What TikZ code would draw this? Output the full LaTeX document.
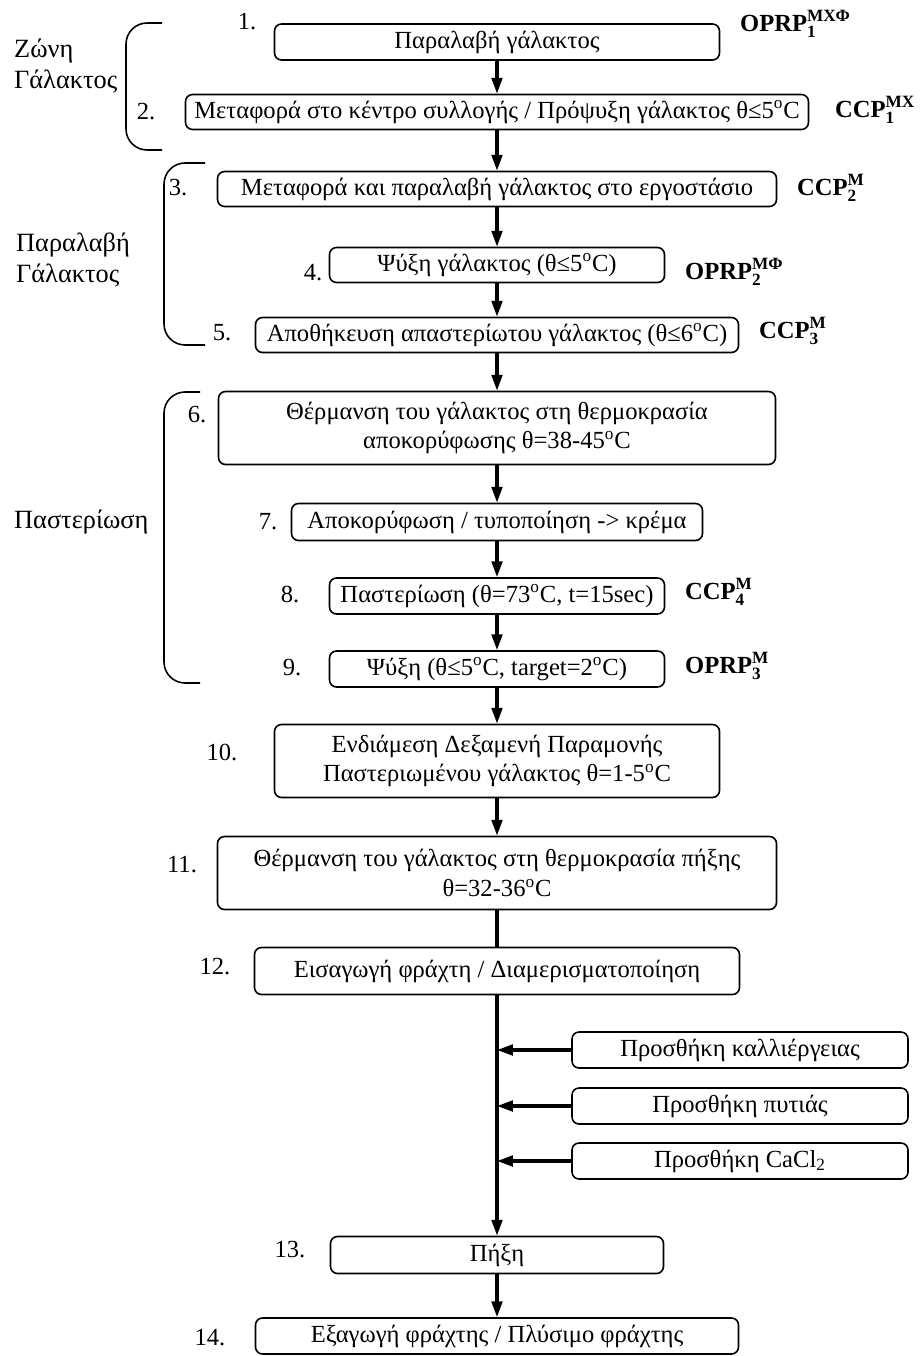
\documentclass[tikz,border=0pt]{standalone}
\usepackage{amsmath}
\usepackage{fontspec}
\setmainfont{Liberation Serif}
\usetikzlibrary{arrows.meta}
\tikzset{
  procbox/.style 2 args = {draw, line width=0.9pt, rounded corners=4pt, align=center,
    inner sep=1pt, minimum width=#1*0.02cm, minimum height=#2*0.02cm,
    font=\fontsize{14}{17}\selectfont},
  flow/.style = {line width=1.8pt, -{Triangle[length=9pt, width=6pt]}},
  stepnum/.style = {font=\fontsize{14}{17}\selectfont},
  hazard/.style = {anchor=west, inner sep=1pt, font=\fontsize{14}{17}\selectfont\bfseries},
  zone/.style = {anchor=west, align=left, font=\fontsize{15}{18}\selectfont},
  bracket/.style = {line width=0.9pt, rounded corners=12pt},
}
\newcommand{\hz}[3]{\textbf{#1}$_{\text{\bfseries #2}}^{\text{\bfseries #3}}$}
\newcommand{\dg}{\textsuperscript{o}}
\begin{document}
\begin{tikzpicture}[x=0.02cm, y=-0.02cm]
			\def\mx{497};
			\useasboundingbox (0,0) rectangle (921,1356);

			% main chain
			\node[procbox={445}{36}] (n1) at (\mx,42) {Παραλαβή γάλακτος};
			\node[procbox={623}{35}] (n2) at (\mx,112) {Μεταφορά στο κέντρο συλλογής / Πρόψυξη γάλακτος θ≤5\dg C};
			\node[procbox={559}{35}] (n3) at (\mx,189) {Μεταφορά και παραλαβή γάλακτος στο εργοστάσιο};
			\node[procbox={335}{35}] (n4) at (\mx,265) {Ψύξη γάλακτος (θ≤5\dg C)};
			\node[procbox={483}{35}] (n5) at (\mx,335) {Αποθήκευση απαστερίωτου γάλακτος (θ≤6\dg C)};
			\node[procbox={557}{73}] (n6) at (\mx,428) {Θέρμανση του γάλακτος στη θερμοκρασία\\αποκορύφωσης θ=38-45\dg C};
			\node[procbox={411}{37}] (n7) at (\mx,522) {Αποκορύφωση / τυποποίηση -> κρέμα};
			\node[procbox={335}{36}] (n8) at (\mx,596) {Παστερίωση (θ=73\dg C, t=15sec)};
			\node[procbox={335}{36}] (n9) at (\mx,669) {Ψύξη (θ≤5\dg C, target=2\dg C)};
			\node[procbox={445}{73}] (n10) at (\mx,761) {Ενδιάμεση Δεξαμενή Παραμονής\\Παστεριωμένου γάλακτος θ=1-5\dg C};
			\node[procbox={559}{73}] (n11) at (\mx,873) {Θέρμανση του γάλακτος στη θερμοκρασία πήξης\\θ=32-36\dg C};
			\node[procbox={485}{47}] (n12) at (\mx,971) {Εισαγωγή φράχτη / Διαμερισματοποίηση};
			\node[procbox={333}{37}] (n13) at (\mx,1255) {Πήξη};
			\node[procbox={483}{36}] (n14) at (\mx,1336) {Εξαγωγή φράχτης / Πλύσιμο φράχτης};

			% additions
			\node[procbox={336}{36}] (addA) at (740,1050) {Προσθήκη καλλιέργειας};
			\node[procbox={336}{36}] (addB) at (740,1106) {Προσθήκη πυτιάς};
			\node[procbox={336}{36}] (addC) at (740,1161) {Προσθήκη CaCl\textsubscript{2}};

			% step numbers
			\node[stepnum] (s1) at (247,22) {1.};
			\node[stepnum] (s2) at (146,112) {2.};
			\node[stepnum] (s3) at (178,188) {3.};
			\node[stepnum] (s4) at (313,273) {4.};
			\node[stepnum] (s5) at (222,333) {5.};
			\node[stepnum] (s6) at (197,415) {6.};
			\node[stepnum] (s7) at (268,522) {7.};
			\node[stepnum] (s8) at (290,594) {8.};
			\node[stepnum] (s9) at (292,668) {9.};
			\node[stepnum] (s10) at (222,752) {10.};
			\node[stepnum] (s11) at (182,865) {11.};
			\node[stepnum] (s12) at (215,967) {12.};
			\node[stepnum] (s13) at (290,1250) {13.};
			\node[stepnum] (s14) at (210,1338) {14.};

			% control points
			\node[hazard] (h1) at (738,24) {\hz{OPRP}{1}{MXΦ}};
			\node[hazard] (h2) at (833,110) {\hz{CCP}{1}{MX}};
			\node[hazard] (h3) at (795,188) {\hz{CCP}{2}{M}};
			\node[hazard] (h4) at (683,272) {\hz{OPRP}{2}{MΦ}};
			\node[hazard] (h5) at (757,331) {\hz{CCP}{3}{M}};
			\node[hazard] (h8) at (683,592) {\hz{CCP}{4}{M}};
			\node[hazard] (h9) at (683,666) {\hz{OPRP}{3}{M}};

			% zones
			\node[zone] (z1) at (8,66) {Ζώνη\\Γάλακτος};
			\node[zone] (z2) at (10,260) {Παραλαβή\\Γάλακτος};
			\node[zone] (z3) at (8,522) {Παστερίωση};

			\draw[bracket] (162,23) -- (126,23) -- (126,150) -- (162,150);
			\draw[bracket] (205,163) -- (164,163) -- (164,345) -- (205,345);
			\draw[bracket] (200,392) -- (164,392) -- (164,683) -- (200,683);

			% arrows
			\draw[flow] (n1) -- (n2);
			\draw[flow] (n2) -- (n3);
			\draw[flow] (n3) -- (n4);
			\draw[flow] (n4) -- (n5);
			\draw[flow] (n5) -- (n6);
			\draw[flow] (n6) -- (n7);
			\draw[flow] (n7) -- (n8);
			\draw[flow] (n8) -- (n9);
			\draw[flow] (n9) -- (n10);
			\draw[flow] (n10) -- (n11);
			\draw[line width=1.8pt] (n11) -- (n12);
			\draw[flow] (n12) -- (n13);
			\draw[flow] (n13) -- (n14);

			\draw[flow] (addA.west) -- (addA.west -| n12.south);
			\draw[flow] (addB.west) -- (addB.west -| n12.south);
			\draw[flow] (addC.west) -- (addC.west -| n12.south);
		\end{tikzpicture}
\end{document}
